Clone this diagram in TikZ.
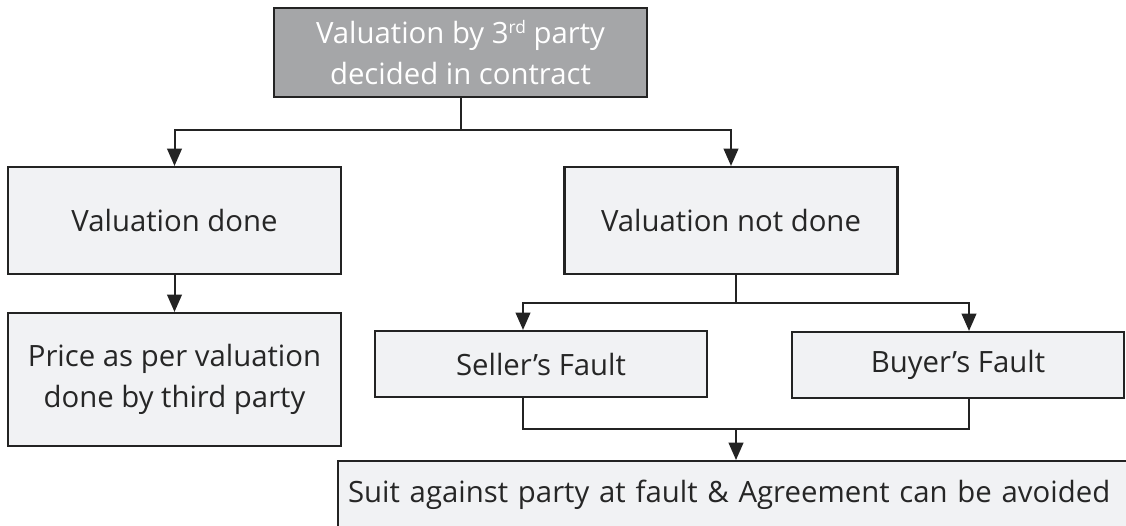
\documentclass[tikz,border=0pt]{standalone}
\usepackage{fontspec}
\setmainfont{Open Sans}
\usetikzlibrary{arrows.meta}
\definecolor{boxfill}{RGB}{241, 242, 244}
\definecolor{headfill}{RGB}{165, 166, 168}
\definecolor{boxline}{RGB}{35, 35, 35}

\begin{document}
\begin{tikzpicture}[x=0.75pt, y=-0.75pt,
    % caixas claras
    box/.style={draw=boxline, line width=1.6pt, fill=boxfill, align=center,
                inner sep=0pt, text=black!85, font=\fontsize{22}{31}\selectfont},
    % caixa do topo (cinza escuro)
    headbox/.style={box, fill=headfill, text=white},
    % ligacoes
    link/.style={draw=boxline, line width=1.5pt},
    flow/.style={link, -{Triangle[length=13pt, width=11pt]}},
]
\useasboundingbox (0,0) rectangle (1126,525);
\clip (0,0) rectangle (1126,525);

\node[headbox, minimum width=279.75pt, minimum height=66.75pt] (valuation) at (460.5,52.5)
     {Valuation by 3{\fontsize{13}{13}\selectfont\raisebox{0.6em}{rd}} party\\decided in contract};
\node[box, minimum width=249.75pt, minimum height=80.25pt] (done) at (174.5,220.5) {Valuation done};
\node[box, minimum width=249.75pt, minimum height=80.25pt] (notdone) at (731,220.5) {Valuation not done};
\node[box, minimum width=249.75pt, minimum height=99.75pt] (price) at (174.5,379.5)
     {Price as per valuation\\done by third party};
\node[box, minimum width=249pt, minimum height=49.5pt] (seller) at (541,364) {Seller’s Fault};
\node[box, minimum width=249pt, minimum height=49.5pt] (buyer) at (958,365) {Buyer’s Fault};
\node[box, anchor=north west, inner xsep=7.5pt, text width=586.5pt, align=left,
      minimum height=51pt] (suit) at (337,460)
     {Suit against party at fault \& Agreement can be avoided};

% relacoes
\draw[link] (valuation.south) -- ++(0,32) coordinate (split);
\draw[flow] (split) -| (done.north);
\draw[flow] (split) -| (notdone.north);
\draw[flow] (done) -- (price);
\draw[link] ([xshift=3.75pt]notdone.south) -- ++(0,28) coordinate (fault);
\draw[flow] (fault) -| ([xshift=-13.5pt]seller.north);
\draw[flow] (fault) -| ([xshift=8.25pt]buyer.north);
\coordinate (merge) at (736,429);
\draw[link] ([xshift=-13.5pt]seller.south) |- (merge) -| ([xshift=8.25pt]buyer.south);
\draw[flow] (merge) -- (merge |- suit.north);
\end{tikzpicture}
\end{document}
